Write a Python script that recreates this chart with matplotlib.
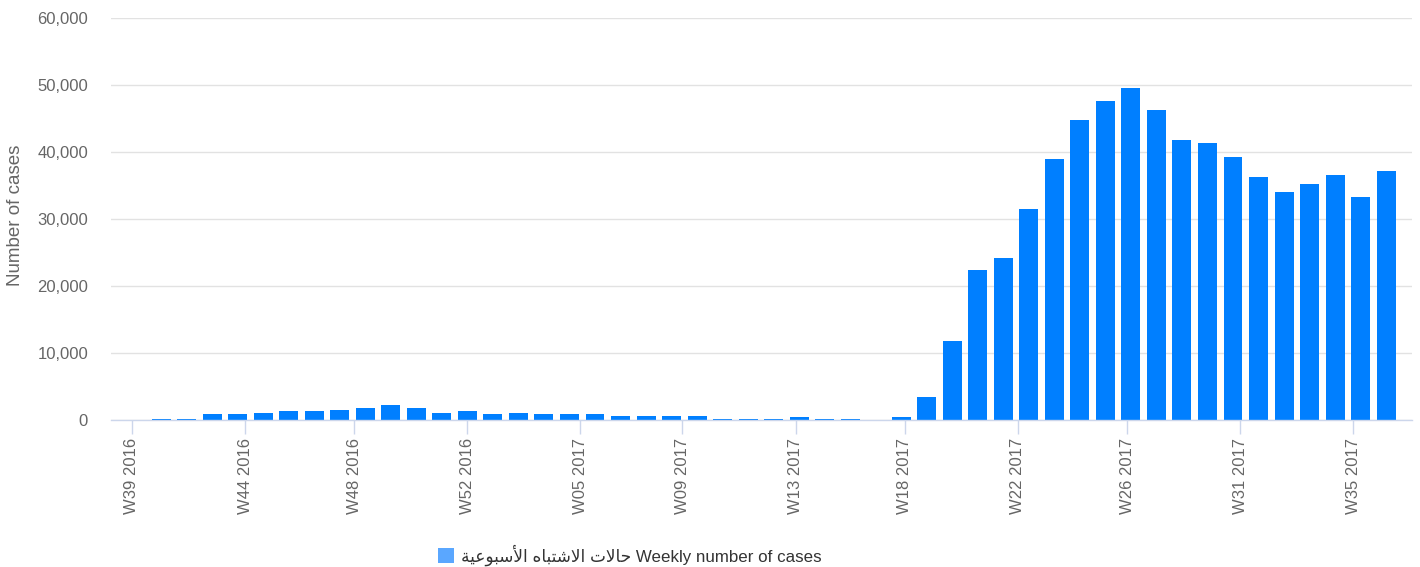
import datetime as dt

import matplotlib
matplotlib.use("Agg")
import matplotlib.pyplot as plt
import matplotlib.dates as mdates
import matplotlib.ticker as mticker
from matplotlib.font_manager import FontProperties
from matplotlib.patches import Patch
import pandas as pd

# weekly bars, one per week (Sunday), Oct 2016 - Sep 2017
week_dates = pd.date_range("2016-10-09", "2017-09-10", freq="W-SUN")
cases = [
    120, 130, 850, 850, 1000, 1300, 1300, 1450, 1750, 2200,
    1750, 1000, 1300, 850, 1000, 850, 850, 850, 550, 550,
    550, 550, 120, 120, 120, 380, 120, 120, 0, 400,
    3500, 11750, 22400, 24200, 31500, 38900, 44850, 47550, 49500, 46200,
    41850, 41400, 39300, 36300, 34050, 35250, 36600, 33350, 37200,
]
y_ticks = [0, 10000, 20000, 30000, 40000, 50000, 60000]

# legend label: Arabic in visual order with presentation forms (no shaping engine)
ar_word3 = "\ufe94\ufef4\ufecb\ufeee\ufe92\ufeb3\ufef7\ufe8d"   # الأسبوعية
ar_word2 = "\ufee9\ufe8e\ufe92\ufe98\ufeb7\ufefb\ufe8d"         # الاشتباه
ar_word1 = "\ufe95\ufefb\ufe8e\ufea3"                           # حالات
series_label = f"{ar_word3} {ar_word2} {ar_word1} Weekly number of cases"

BAR = "#007fff"
GRID = "#e2e2e2"
AXIS = "#ccd6eb"
LABEL = "#666666"

plt.rcParams["font.family"] = ["Liberation Sans", "DejaVu Sans"]

fig = plt.figure(figsize=(14.2, 5.67), dpi=100)
W, H = 1420, 567
left, right, top, bottom = 111, 1412, 18, 420
ax = fig.add_axes([left / W, 1 - bottom / H, (right - left) / W, (bottom - top) / H])

ax.bar(week_dates, cases, width=5.2, color=BAR, zorder=3)

oct1 = mdates.date2num(dt.datetime(2016, 10, 1))
ax.set_xlim(oct1 - 5.76, oct1 + 351.1)
ax.set_ylim(0, 60000)

ax.xaxis.set_major_locator(mdates.MonthLocator())


def iso_week(x, pos=None):
    d = mdates.num2date(x)
    y, w, _ = d.isocalendar()
    return f"W{w:02d} {y}"


ax.xaxis.set_major_formatter(mticker.FuncFormatter(iso_week))
ax.tick_params(axis="x", direction="out", length=10, width=1, color=AXIS,
               pad=3, labelsize=12, labelcolor=LABEL, labelrotation=90)

ax.set_yticks(y_ticks)
ax.yaxis.set_major_formatter(mticker.FuncFormatter(lambda v, p: f"{int(v):,}"))
ax.tick_params(axis="y", length=0, pad=16.5, labelsize=12, labelcolor=LABEL)
ax.yaxis.grid(True, color=GRID, lw=1.0, zorder=0)

for s in ("top", "right", "left"):
    ax.spines[s].set_visible(False)
ax.spines["bottom"].set_color(AXIS)
ax.spines["bottom"].set_linewidth(1.0)
ax.spines["bottom"].set_zorder(4)

ax.set_ylabel("Number of cases", fontsize=13.5, color=LABEL, va="center")
ax.yaxis.set_label_coords((15 - left) / (right - left), 0.51)

leg_font = FontProperties(family=["Liberation Sans", "DejaVu Sans"], size=12.2)
fig.legend(handles=[Patch(facecolor="#5aa7ff", edgecolor="none", label=series_label)],
           loc="center", bbox_to_anchor=(630 / W, 1 - 555 / H), frameon=False,
           prop=leg_font, labelcolor="#333333", handlelength=0.95,
           handleheight=0.95, handletextpad=0.4, borderpad=0)

fig.savefig("out.png", dpi=100)
